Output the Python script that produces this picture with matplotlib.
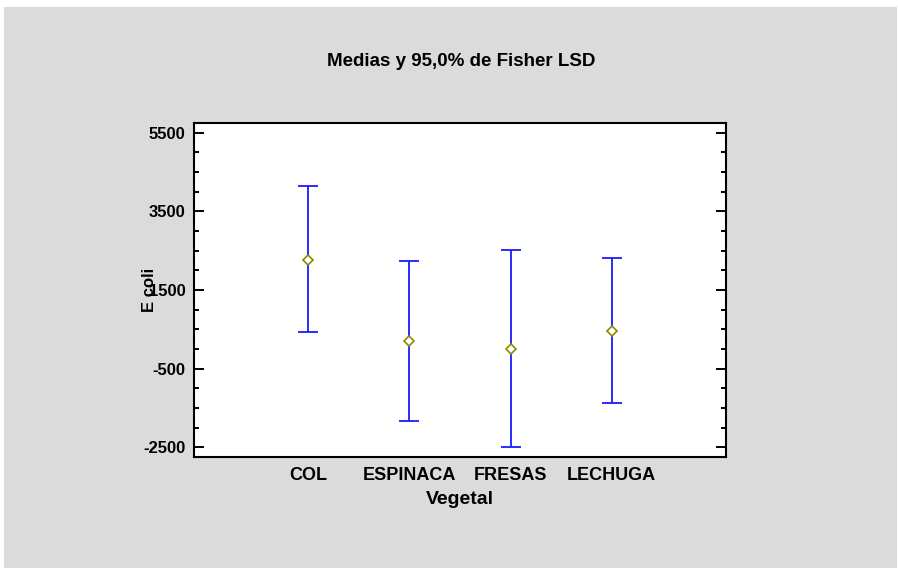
import matplotlib
matplotlib.use("Agg")
import matplotlib.pyplot as plt
from matplotlib.patches import Rectangle
from matplotlib.ticker import MultipleLocator

plt.rcParams['font.family'] = ['Liberation Sans', 'DejaVu Sans']
plt.rcParams['font.weight'] = 'bold'
plt.rcParams['axes.unicode_minus'] = False

# data
vegetales = ['COL', 'ESPINACA', 'FRESAS', 'LECHUGA']
medias = [2265, 190, -5, 465]
limite_inf = [430, -1840, -2495, -1370]
limite_sup = [4150, 2240, 2520, 2310]
y_ticks = [-2500, -500, 1500, 3500, 5500]

fig = plt.figure(figsize=(8.98, 5.68), dpi=100)
fig.patch.set_facecolor('white')
# gray panel behind everything
fig.patches.append(Rectangle((4 / 898, 0), 893 / 898, 561 / 568, transform=fig.transFigure,
                             facecolor='#dbdbdb', edgecolor='none', zorder=-5))

ax = fig.add_axes([194 / 898, (568 - 457) / 568, 532 / 898, 334 / 568])
ax.set_facecolor('white')

pos = list(range(1, len(vegetales) + 1))
err_low = [m - lo for m, lo in zip(medias, limite_inf)]
err_high = [hi - m for m, hi in zip(medias, limite_sup)]
ax.errorbar(pos, medias, yerr=[err_low, err_high], fmt='none', ecolor='#1a1aff',
            elinewidth=1.3, capsize=7.5, capthick=1.3, zorder=2)
ax.plot(pos, medias, linestyle='none', marker='D', markersize=5, markerfacecolor='white',
        markeredgecolor='#8a8a00', markeredgewidth=1.2, zorder=3)

ax.set_xlim(-0.13, 5.13)
ax.set_ylim(-2750, 5750)
ax.set_xticks(pos)
ax.set_xticklabels(vegetales)
ax.set_yticks(y_ticks)
ax.yaxis.set_minor_locator(MultipleLocator(500))

ax.tick_params(axis='x', length=0, pad=7, labelsize=13)
ax.tick_params(axis='y', which='major', direction='in', length=7, width=1.4,
               left=True, right=True, pad=6, labelsize=12)
ax.tick_params(axis='y', which='minor', direction='in', length=3.6, width=1.4,
               left=True, right=True)

for s in ax.spines.values():
    s.set_linewidth(1.5)

ax.set_xlabel('Vegetal', fontsize=14, fontweight='bold', labelpad=5)
fig.text(150 / 898, 1 - 290 / 568, 'E coli', rotation=90, ha='center', va='center',
         fontsize=12, fontweight='bold')
fig.text(461 / 898, 1 - 61 / 568, 'Medias y 95,0% de Fisher LSD', ha='center', va='center',
         fontsize=13.5, fontweight='bold')

fig.savefig('out.png', dpi=100)
